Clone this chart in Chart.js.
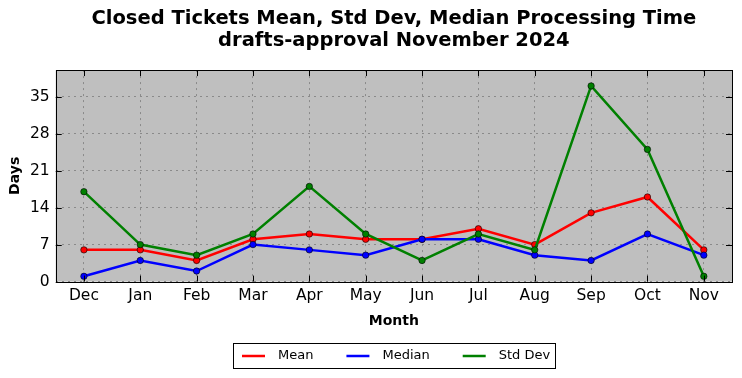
<!DOCTYPE html>
<html>
<head>
<meta charset="utf-8">
<script src="https://cdn.jsdelivr.net/npm/chart.js@4"></script>
<style>
html,body{margin:0;padding:0;background:#fff;}
#wrap{width:742px;height:378px;}
</style>
</head>
<body>
<div id="wrap"><canvas id="c" width="742" height="378"></canvas></div>
<script>
const months = ['Dec','Jan','Feb','Mar','Apr','May','Jun','Jul','Aug','Sep','Oct','Nov'];
const meanDays = [6, 6, 4, 8, 9, 8, 8, 10, 7, 13, 16, 6];
const medianDays = [1, 4, 2, 7, 6, 5, 8, 8, 5, 4, 9, 5];
const stdDevDays = [17, 7, 5, 9, 18, 9, 4, 9, 6, 37, 25, 1];
const yTicks = [0, 7, 14, 21, 28, 35];
const titleLines = ['Closed Tickets Mean, Std Dev, Median Processing Time', 'drafts-approval November 2024'];

const FONT = "'DejaVu Sans', sans-serif";

const framePlugin = {
  id: 'frame',
  beforeDraw(chart) {
    const a = chart.chartArea, ctx = chart.ctx;
    ctx.save();
    ctx.fillStyle = '#bfbfbf';
    ctx.fillRect(a.left, a.top, a.right - a.left, a.bottom - a.top);
    ctx.restore();
  },
  afterDraw(chart) {
    const a = chart.chartArea, ctx = chart.ctx;
    ctx.save();
    ctx.strokeStyle = '#000';
    ctx.lineWidth = 1;
    ctx.strokeRect(Math.round(a.left) + 0.5, Math.round(a.top) + 0.5, Math.round(a.right - a.left), Math.round(a.bottom - a.top));
    // inward tick marks
    ctx.beginPath();
    const xs = chart.scales.x, ys = chart.scales.y;
    months.forEach((m, i) => {
      const px = Math.round(xs.getPixelForValue(i)) + 0.5;
      ctx.moveTo(px, a.bottom); ctx.lineTo(px, a.bottom - 6);
      ctx.moveTo(px, a.top); ctx.lineTo(px, a.top + 6);
    });
    yTicks.forEach(v => {
      const py = Math.round(ys.getPixelForValue(v)) + 0.5;
      ctx.moveTo(a.left, py); ctx.lineTo(a.left + 6, py);
      ctx.moveTo(a.right, py); ctx.lineTo(a.right - 6, py);
    });
    ctx.stroke();

    // legend (framed, below the axis title)
    const ds = chart.data.datasets;
    ctx.font = '13px ' + FONT;
    const lineLen = 23, gapText = 13, gapItem = 33, padL = 9, padR = 5;
    let total = padL + padR;
    ds.forEach((d, i) => {
      total += lineLen + gapText + ctx.measureText(d.label).width;
      if (i < ds.length - 1) total += gapItem;
    });
    const cx = (a.left + a.right) / 2;
    const boxL = Math.round(cx - total / 2), boxT = 343, boxH = 25;
    ctx.strokeStyle = '#000';
    ctx.lineWidth = 1;
    ctx.strokeRect(boxL + 0.5, boxT + 0.5, Math.round(total), boxH);
    const cy = boxT + boxH / 2 + 0.5;
    let x = boxL + padL;
    ctx.textBaseline = 'middle';
    ctx.textAlign = 'left';
    ds.forEach(d => {
      ctx.strokeStyle = d.borderColor;
      ctx.lineWidth = 2.5;
      ctx.beginPath();
      ctx.moveTo(x, cy); ctx.lineTo(x + lineLen, cy);
      ctx.stroke();
      x += lineLen + gapText;
      ctx.fillStyle = '#000';
      ctx.fillText(d.label, x, cy);
      x += ctx.measureText(d.label).width + gapItem;
    });
    ctx.restore();
  }
};

const common = { borderWidth: 2.5, pointRadius: 3.2, pointBorderColor: '#000', pointBorderWidth: 0.6, tension: 0, pointHoverRadius: 3.2 };

new Chart(document.getElementById('c'), {
  type: 'line',
  data: {
    labels: months,
    datasets: [
      Object.assign({ label: 'Mean', data: meanDays, borderColor: '#ff0000', backgroundColor: '#ff0000', pointBackgroundColor: '#ff0000', order: 3 }, common),
      Object.assign({ label: 'Median', data: medianDays, borderColor: '#0000ff', backgroundColor: '#0000ff', pointBackgroundColor: '#0000ff', order: 2 }, common),
      Object.assign({ label: 'Std Dev', data: stdDevDays, borderColor: '#008000', backgroundColor: '#008000', pointBackgroundColor: '#008000', order: 1 }, common)
    ]
  },
  options: {
    responsive: false,
    animation: false,
    devicePixelRatio: 1,
    layout: { padding: { left: 8, right: 10, top: 6, bottom: 48 } },
    plugins: {
      title: {
        display: true,
        text: titleLines,
        fullSize: false,
        color: '#000',
        font: { family: FONT, size: 19.5, weight: 'bold', lineHeight: 1.13 },
        padding: { top: 2, bottom: 18 }
      },
      legend: { display: false },
      tooltip: { enabled: false }
    },
    scales: {
      x: {
        offset: true,
        grid: { color: '#8a8a8a', drawTicks: false, offset: false },
        border: { display: false, dash: [2, 4] },
        ticks: { color: '#000', font: { family: FONT, size: 15.5 }, padding: 5, maxRotation: 0 },
        title: { display: true, text: 'Month', color: '#000', font: { family: FONT, size: 14, weight: 'bold' }, padding: { top: 3, bottom: 0 } }
      },
      y: {
        min: 0, max: 40,
        afterBuildTicks(scale) { scale.ticks = yTicks.map(v => ({ value: v })); },
        grid: { color: '#8a8a8a', drawTicks: false },
        border: { display: false, dash: [2, 4] },
        ticks: { color: '#000', font: { family: FONT, size: 15.5 }, padding: 6 },
        title: { display: true, text: 'Days', color: '#000', font: { family: FONT, size: 14, weight: 'bold', lineHeight: 1 }, padding: { top: 0, bottom: 2 } }
      }
    }
  },
  plugins: [framePlugin]
});
</script>
</body>
</html>
